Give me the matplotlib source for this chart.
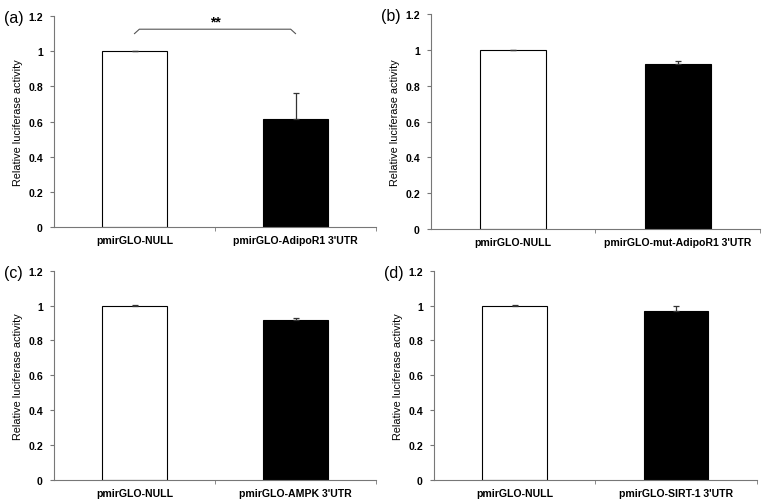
import matplotlib.pyplot as plt
import numpy as np

plt.rcParams['font.family'] = ['Liberation Sans', 'DejaVu Sans']

labels_a = ["pmirGLO-NULL", "pmirGLO-AdipoR1 3'UTR"]
labels_b = ["pmirGLO-NULL", "pmirGLO-mut-AdipoR1 3'UTR"]
labels_c = ["pmirGLO-NULL", "pmirGLO-AMPK 3'UTR"]
labels_d = ["pmirGLO-NULL", "pmirGLO-SIRT-1 3'UTR"]

vals_a = [1.0, 0.617]
vals_b = [1.0, 0.921]
vals_c = [1.0, 0.915]
vals_d = [1.0, 0.970]

err_a = [0.0, 0.146]
err_b = [0.0, 0.016]
err_c = [0.003, 0.011]
err_d = [0.003, 0.029]

panels = [
    ("(a)", labels_a, vals_a, err_a, [0.0708, 0.5458, 0.4220, 0.4203]),
    ("(b)", labels_b, vals_b, err_b, [0.5649, 0.5418, 0.4311, 0.4283]),
    ("(c)", labels_c, vals_c, err_c, [0.0708, 0.0424, 0.4220, 0.4164]),
    ("(d)", labels_d, vals_d, err_d, [0.5688, 0.0424, 0.4229, 0.4164]),
]

fig = plt.figure(figsize=(7.63, 5.02), dpi=100)
axes = []
for tag, labs, vals, errs, pos in panels:
    ax = fig.add_axes(pos)
    x = np.arange(len(vals))
    ax.bar(x, vals, width=0.4, color=["white", "black"], edgecolor="black", linewidth=0.8)
    ax.errorbar(x, vals, yerr=[np.zeros(len(errs)), errs], fmt="none",
                ecolor="#333333", elinewidth=0.9, capsize=2.5, capthick=0.9)
    ax.set_xlim(-0.5, 1.5)
    ax.set_ylim(0, 1.2)
    ax.set_yticks([0, 0.2, 0.4, 0.6, 0.8, 1, 1.2])
    ax.set_yticklabels(["0", "0.2", "0.4", "0.6", "0.8", "1", "1.2"], fontsize=7.6, fontweight="bold")
    ax.set_xticks(x)
    ax.set_xticklabels(labs, fontsize=7.6, fontweight="bold")
    ax.tick_params(axis="x", length=0, pad=6)
    ax.set_xticks([0.5, 1.5], minor=True)
    ax.tick_params(axis="x", which="minor", length=3, color="#777777", direction="out")
    ax.tick_params(axis="y", length=3, color="#777777", direction="out", pad=5)
    ax.set_ylabel("Relative luciferase activity", fontsize=7.8, labelpad=4)
    for s in ["top", "right"]:
        ax.spines[s].set_visible(False)
    for s in ["left", "bottom"]:
        ax.spines[s].set_color("#777777")
        ax.spines[s].set_linewidth(0.8)
    fig.text(pos[0] - 0.066, pos[1] + pos[3] - 0.003, tag, fontsize=11.5, ha="left", va="center")
    axes.append(ax)

# significance bracket in panel (a)
ax = axes[0]
ax.plot([0, 0.03, 0.97, 1.0], [1.10, 1.125, 1.125, 1.10], color="#555555", lw=0.8,
        solid_joinstyle="round")
ax.text(0.5, 1.13, "**", ha="center", va="bottom", fontsize=10, fontweight="bold")

fig.savefig("out.png", dpi=100)
